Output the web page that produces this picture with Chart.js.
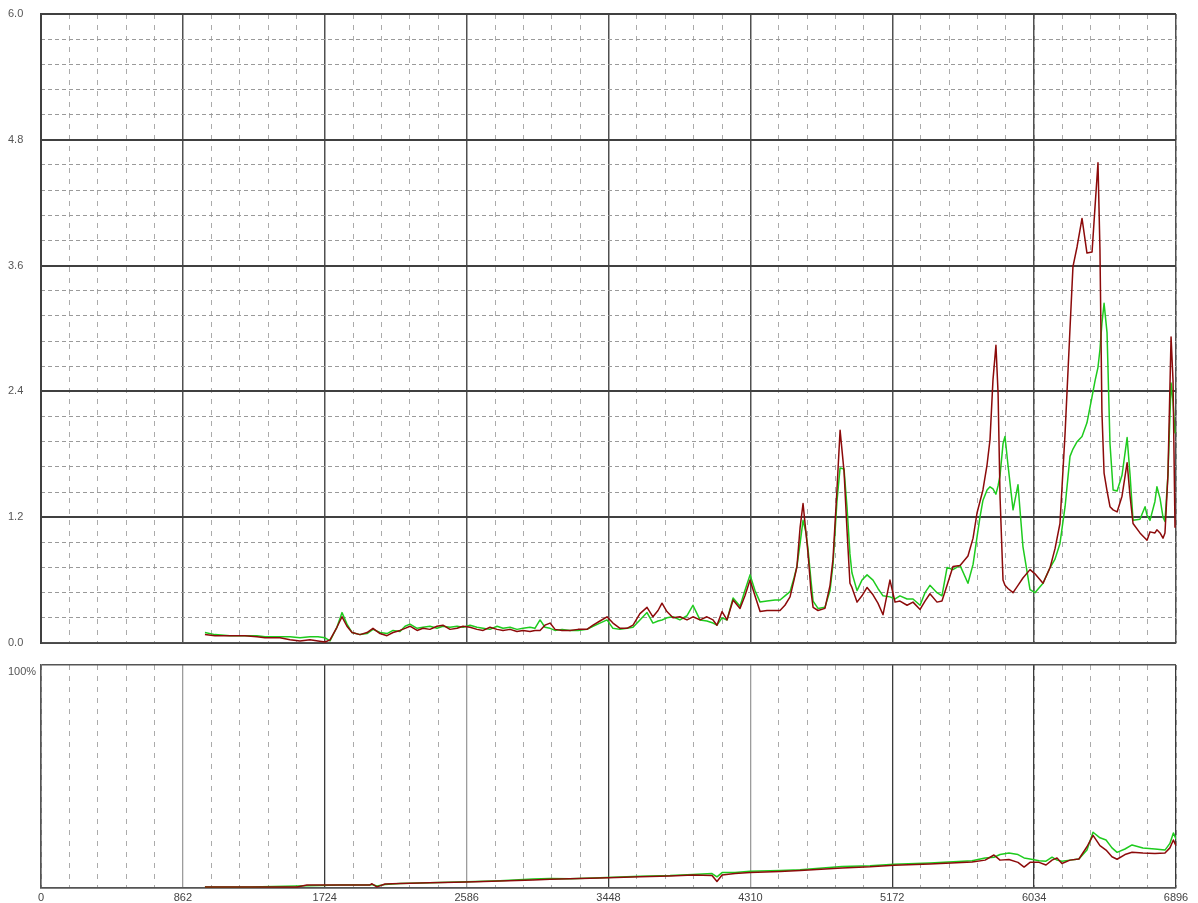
<!DOCTYPE html>
<html>
<head>
<meta charset="utf-8">
<script src="https://cdn.jsdelivr.net/npm/chart.js@4.4.1/dist/chart.umd.min.js"></script>
<style>
html,body{margin:0;padding:0;background:#fff;}
#wrap{position:relative;width:1198px;height:903px;}
#topBox{position:absolute;left:0;top:0;width:1198px;height:655px;}
#botBox{position:absolute;left:0;top:655px;width:1198px;height:248px;}
</style>
</head>
<body>
<div id="wrap">
  <div id="topBox"><canvas id="topChart"></canvas></div>
  <div id="botBox"><canvas id="botChart"></canvas></div>
</div>
<script>
/* ===== Data ===== */
const xTickValues = [0, 862, 1724, 2586, 3448, 4310, 5172, 6034, 6896];
const yTickValues = [0, 1.2, 2.4, 3.6, 4.8, 6.0];
const darkBottomLines = [1724, 3448, 5172, 6034];

const topX = [996,1057,1148,1239,1312,1361,1452,1513,1574,1634,1683,1726,1756,1798,1829,1859,1890,1938,1981,2017,
  2060,2102,2139,2181,2212,2242,2285,2321,2363,2406,2442,2485,2528,2564,2607,2649,2686,2728,2771,2807,
  2850,2892,2929,2971,3001,3032,3062,3093,3123,3166,3214,3263,3317,3354,3396,3439,3475,3518,3560,3597,
  3639,3682,3718,3749,3773,3803,3840,3882,3925,3961,4004,4046,4083,4107,4138,4168,4205,4247,4277,4308,
  4338,4369,4411,4460,4490,4520,4551,4575,4593,4612,4630,4648,4660,4678,4691,4721,4763,4794,4812,4836,
  4855,4879,4897,4915,4927,4958,4988,5019,5055,5085,5116,5158,5189,5219,5262,5298,5341,5371,5401,5444,
  5474,5505,5541,5584,5632,5663,5687,5705,5723,5748,5766,5784,5802,5815,5827,5845,5857,5875,5906,5936,
  5966,6009,6039,6088,6131,6161,6191,6222,6252,6270,6295,6325,6355,6386,6404,6422,6434,6446,6459,6477,
  6495,6514,6538,6568,6599,6617,6635,6677,6708,6720,6738,6768,6780,6799,6817,6829,6847,6866,6878,6890];
const topRed = [0.08,0.07,0.07,0.07,0.06,0.05,0.05,0.03,0.02,0.03,0.02,0.01,0.03,0.15,0.25,0.16,0.10,0.08,0.10,0.14,
  0.09,0.07,0.10,0.12,0.14,0.16,0.12,0.14,0.13,0.16,0.17,0.13,0.14,0.16,0.15,0.13,0.12,0.15,0.13,0.12,
  0.13,0.11,0.12,0.11,0.12,0.12,0.17,0.19,0.13,0.12,0.12,0.13,0.13,0.17,0.21,0.25,0.19,0.14,0.14,0.17,
  0.28,0.34,0.25,0.31,0.38,0.30,0.24,0.25,0.22,0.25,0.22,0.25,0.22,0.17,0.30,0.22,0.41,0.33,0.45,0.60,
  0.45,0.30,0.31,0.31,0.31,0.36,0.44,0.60,0.73,1.10,1.33,1.05,0.86,0.50,0.34,0.31,0.33,0.55,0.80,1.46,
  2.03,1.64,1.08,0.57,0.53,0.39,0.45,0.53,0.46,0.38,0.27,0.60,0.39,0.40,0.36,0.39,0.32,0.40,0.47,0.39,
  0.40,0.55,0.73,0.74,0.83,1.00,1.24,1.35,1.46,1.70,1.94,2.51,2.84,2.38,1.39,0.60,0.55,0.52,0.48,0.55,
  0.62,0.70,0.66,0.57,0.72,0.90,1.14,2.00,3.00,3.59,3.78,4.05,3.72,3.73,4.16,4.58,3.75,2.20,1.62,1.45,
  1.30,1.27,1.25,1.40,1.72,1.40,1.14,1.05,1.00,0.98,1.06,1.05,1.08,1.05,1.00,1.05,1.60,2.92,2.50,1.10];
const topGreen = [0.10,0.08,0.07,0.07,0.07,0.06,0.06,0.06,0.05,0.06,0.06,0.05,0.02,0.15,0.29,0.18,0.10,0.08,0.09,0.13,
  0.10,0.09,0.12,0.11,0.16,0.18,0.14,0.15,0.16,0.14,0.16,0.15,0.16,0.15,0.17,0.15,0.14,0.13,0.16,0.14,
  0.15,0.13,0.14,0.15,0.14,0.22,0.15,0.14,0.12,0.13,0.12,0.12,0.13,0.16,0.19,0.22,0.14,0.13,0.14,0.15,
  0.22,0.29,0.19,0.21,0.22,0.24,0.25,0.22,0.26,0.36,0.22,0.21,0.19,0.17,0.24,0.22,0.43,0.35,0.50,0.65,
  0.50,0.39,0.40,0.41,0.41,0.45,0.49,0.62,0.73,0.95,1.17,1.05,0.90,0.60,0.40,0.33,0.34,0.50,0.75,1.35,
  1.67,1.66,1.30,0.85,0.67,0.50,0.60,0.65,0.60,0.52,0.45,0.44,0.42,0.45,0.42,0.42,0.36,0.48,0.55,0.48,
  0.45,0.72,0.70,0.74,0.57,0.75,1.01,1.20,1.36,1.46,1.49,1.47,1.42,1.50,1.60,1.90,1.97,1.70,1.27,1.51,
  0.92,0.51,0.48,0.57,0.72,0.80,0.95,1.30,1.78,1.85,1.92,1.97,2.10,2.35,2.50,2.63,2.80,3.05,3.24,2.96,
  1.90,1.46,1.45,1.60,1.96,1.60,1.17,1.18,1.30,1.22,1.17,1.35,1.49,1.38,1.20,1.16,1.60,2.48,2.30,2.00];

const botX = [996,1270,1555,1616,1817,1999,2011,2041,2090,2181,2363,2588,2789,2989,3093,3214,3396,3639,3822,3961,
  4077,4107,4138,4217,4308,4490,4612,4867,5037,5183,5401,5657,5736,5790,5827,5881,5936,5973,6009,6064,
  6106,6143,6173,6203,6252,6306,6355,6392,6434,6471,6507,6538,6586,6629,6695,6768,6829,6859,6880,6896];
const botRed = [0.4,0.4,0.4,1.3,1.3,1.4,1.9,0.5,1.8,2.0,2.3,2.7,3.1,3.6,3.9,4.1,4.5,5.0,5.4,5.8,
  5.6,2.9,5.8,6.5,7.0,7.4,7.8,9.0,9.5,10.2,10.8,11.7,12.5,14.8,12.5,12.8,11.5,9.4,11.5,11.5,
  10.3,12.5,13.5,11.0,12.5,13.0,18.5,23.6,19.0,17.0,14.0,12.9,15.0,16.0,15.7,15.5,15.7,18.0,21.5,19.0];
const botGreen = [0.4,0.4,0.9,1.0,1.3,1.4,1.6,0.9,1.6,2.0,2.4,2.8,3.3,4.0,4.3,4.2,4.6,5.3,5.6,6.1,
  6.5,5.0,6.9,6.9,7.5,7.8,8.2,9.6,10.0,10.6,11.2,12.2,13.5,13.8,15.0,15.7,15.0,13.5,13.0,12.2,
  12.0,13.8,12.5,12.0,12.5,13.0,17.0,25.0,22.5,21.5,18.0,16.0,17.5,19.3,17.9,17.5,17.0,20.0,24.7,22.0];

/* ===== Styles ===== */
const RED = '#8c0a0a', GREEN = '#1ecb1e';
const FONT = {family:'"Liberation Sans", Arial, sans-serif', size:11};
const pts = (xs, ys) => xs.map((x,i)=>({x, y:ys[i]}));

function line(label, xs, ys, color){
  return {label, data:pts(xs,ys), borderColor:color, borderWidth:1.5, pointRadius:0, tension:0, fill:false,
          xAxisID:'x', yAxisID:'y'};
}

function minorX(){
  return {type:'linear', min:0, max:6896, position:'bottom', z:-1,
    ticks:{display:false, stepSize:172.4, autoSkip:false},
    grid:{color:'#ababab', lineWidth:1, drawTicks:false},
    border:{display:false, dash:[5,6]},
    afterFit:s=>{ s.height = 0; }};
}

const common = {
  responsive:true, maintainAspectRatio:false, animation:false,
  plugins:{legend:{display:false}, tooltip:{enabled:false}},
  elements:{line:{borderJoinStyle:'round'}}
};

/* ===== Top chart ===== */
new Chart(document.getElementById('topChart'), {
  type:'line',
  data:{datasets:[ line('red', topX, topRed, RED), line('green', topX, topGreen, GREEN) ]},
  options:{...common,
    layout:{padding:{left:8, right:22, top:14, bottom:12}},
    scales:{
      xMinor: minorX(),
      x:{type:'linear', min:0, max:6896, position:'bottom',
        afterBuildTicks:s=>{ s.ticks = xTickValues.map(v=>({value:v})); },
        ticks:{display:false},
        grid:{color:'#505050', lineWidth:1.5, drawTicks:false},
        border:{color:'#505050', width:1.5},
        afterFit:s=>{ s.height = 0; }},
      yMinor:{type:'linear', min:0, max:6, position:'left', z:-1,
        ticks:{display:false, stepSize:0.24, autoSkip:false},
        grid:{color:'#9a9a9a', lineWidth:1, drawTicks:false},
        border:{display:false, dash:[4,3]},
        afterFit:s=>{ s.width = 0; }},
      y:{type:'linear', min:0, max:6, position:'left',
        afterBuildTicks:s=>{ s.ticks = yTickValues.map(v=>({value:v})); },
        ticks:{crossAlign:'far', padding:0, color:'#555', font:FONT, callback:v=>Number(v).toFixed(1)},
        grid:{color:'#404040', lineWidth:2, drawTicks:false},
        border:{color:'#404040', width:2},
        afterFit:s=>{ s.width = 33; }}
    }
  }
});

/* ===== Bottom chart ===== */
new Chart(document.getElementById('botChart'), {
  type:'line',
  data:{datasets:[ line('red', botX, botRed, RED), line('green', botX, botGreen, GREEN) ]},
  options:{...common,
    layout:{padding:{left:8, right:22, top:10, bottom:0}},
    scales:{
      xMinor: minorX(),
      x:{type:'linear', min:0, max:6896, position:'bottom',
        afterBuildTicks:s=>{ s.ticks = xTickValues.map(v=>({value:v})); },
        ticks:{padding:3, color:'#444', font:FONT, maxRotation:0, autoSkip:false, callback:v=>String(v)},
        grid:{drawTicks:false, lineWidth:1.3,
          color:c=>{ const v = c.tick && c.tick.value;
            if (v===0 || v===6896 || darkBottomLines.includes(v)) return '#3a3a3a';
            return '#9c9c9c'; }},
        border:{color:'#555', width:1.5},
        afterFit:s=>{ s.height = 15; }},
      y:{type:'linear', min:0, max:100, position:'left',
        afterBuildTicks:s=>{ s.ticks = [{value:0},{value:100}]; },
        ticks:{crossAlign:'far', padding:0, labelOffset:7, color:'#555', font:FONT, callback:v=>v===100?'100%':''},
        grid:{color:'#555', lineWidth:1.5, drawTicks:false},
        border:{color:'#555', width:1.5},
        afterFit:s=>{ s.width = 33; }}
    }
  }
});
</script>
</body>
</html>
